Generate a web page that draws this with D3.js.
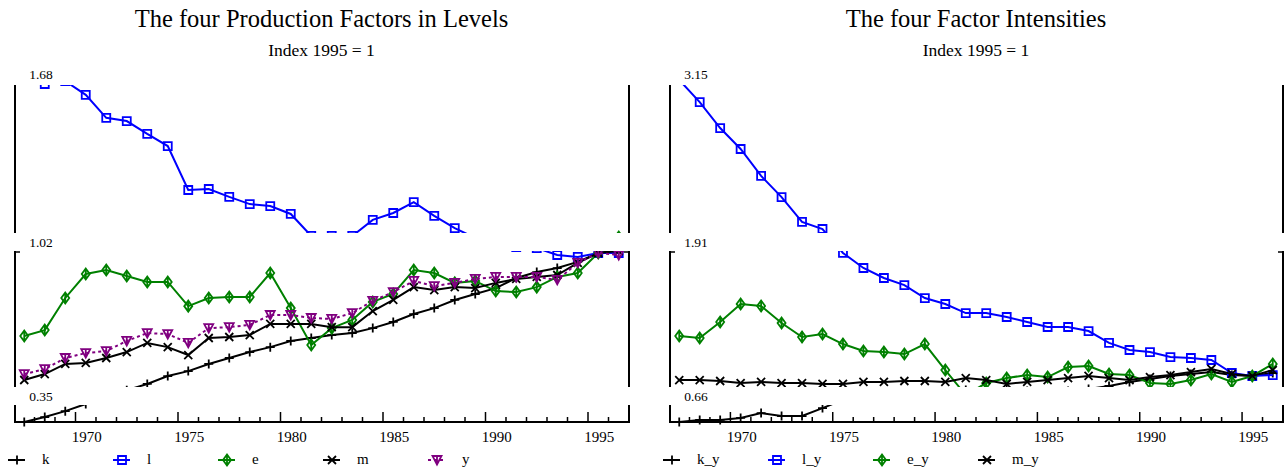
<!DOCTYPE html>
<html>
<head>
<meta charset="utf-8">
<script src="https://d3js.org/d3.v7.min.js"></script>
<style>
  body { margin: 0; background: #fff; }
  text { font-family: "Liberation Serif", "Times New Roman", serif; fill: #000; }
</style>
</head>
<body>
<div class="chart"></div>
<script>
// years on the x axis
var years = [1967, 1968, 1969, 1970, 1971, 1972, 1973, 1974, 1975, 1976,
  1977, 1978, 1979, 1980, 1981, 1982, 1983, 1984, 1985, 1986,
  1987, 1988, 1989, 1990, 1991, 1992, 1993, 1994, 1995, 1996];
var yearTicks = [1970, 1975, 1980, 1985, 1990, 1995];

// panel 1: production factors in levels (index 1995 = 1)
var kLevel = [0.316, 0.336, 0.360, 0.389, 0.417, 0.445, 0.470, 0.502, 0.522, 0.551,
  0.575, 0.599, 0.619, 0.644, 0.656, 0.668, 0.676, 0.696, 0.721, 0.753,
  0.777, 0.810, 0.834, 0.858, 0.899, 0.923, 0.939, 0.964, 1.000, 1.012];
var lLevel = [1.721, 1.684, 1.696, 1.640, 1.547, 1.534, 1.482, 1.433, 1.255, 1.259,
  1.227, 1.198, 1.190, 1.158, 1.069, 1.069, 1.069, 1.134, 1.162, 1.206,
  1.150, 1.101, 1.061, 1.053, 1.024, 1.020, 0.992, 0.984, 1.000, 1.000];
var eLevel = [0.664, 0.688, 0.818, 0.915, 0.931, 0.907, 0.883, 0.883, 0.785, 0.818,
  0.822, 0.822, 0.919, 0.777, 0.628, 0.696, 0.729, 0.802, 0.834, 0.931,
  0.919, 0.879, 0.887, 0.846, 0.842, 0.862, 0.903, 0.919, 1.000, 1.065];
var mLevel = [0.486, 0.510, 0.551, 0.555, 0.575, 0.599, 0.636, 0.619, 0.587, 0.656,
  0.660, 0.668, 0.713, 0.713, 0.713, 0.700, 0.700, 0.765, 0.810, 0.862,
  0.850, 0.862, 0.858, 0.879, 0.895, 0.903, 0.911, 0.960, 1.000, 1.008];
var yLevel = [0.510, 0.530, 0.575, 0.595, 0.603, 0.644, 0.676, 0.672, 0.636, 0.696,
  0.700, 0.709, 0.749, 0.749, 0.737, 0.733, 0.757, 0.806, 0.842, 0.887,
  0.866, 0.879, 0.895, 0.903, 0.903, 0.903, 0.891, 0.960, 1.000, 0.992];
var levelRange = [0.316, 1.680];
var levelLabels = ["1.68", "1.02", "0.35"];

// panel 2: factor intensities (index 1995 = 1)
var kyInt = [0.660, 0.675, 0.675, 0.690, 0.726, 0.704, 0.704, 0.763, 0.823, 0.837,
  0.852, 0.859, 0.867, 0.882, 0.896, 0.904, 0.904, 0.889, 0.882, 0.889,
  0.904, 0.926, 0.956, 0.978, 1.000, 1.015, 1.029, 1.007, 1.000, 1.022];
var lyInt = [3.187, 3.024, 2.832, 2.677, 2.478, 2.322, 2.138, 2.086, 1.909, 1.798,
  1.724, 1.672, 1.576, 1.532, 1.465, 1.465, 1.436, 1.399, 1.362, 1.362,
  1.332, 1.244, 1.192, 1.177, 1.140, 1.133, 1.118, 1.022, 1.000, 1.007];
var eyInt = [1.295, 1.281, 1.399, 1.532, 1.517, 1.391, 1.288, 1.310, 1.236, 1.185,
  1.177, 1.162, 1.236, 1.044, 0.859, 0.948, 0.985, 1.007, 0.992, 1.066,
  1.074, 1.015, 1.007, 0.948, 0.941, 0.970, 1.015, 0.956, 1.000, 1.089];
var myInt = [0.970, 0.970, 0.963, 0.948, 0.956, 0.948, 0.948, 0.941, 0.941, 0.956,
  0.956, 0.963, 0.963, 0.956, 0.985, 0.970, 0.941, 0.956, 0.970, 0.985,
  1.000, 0.985, 0.970, 0.992, 1.007, 1.029, 1.052, 1.015, 1.000, 1.044];
var intRange = [0.66, 3.15];
var intLabels = ["3.15", "1.91", "0.66"];

var svgWidth = 1286;
var svgHeight = 471;

// vertical layout: three visible bands of the plot, separated by white gaps
var plotTop = 85;
var plotBottom = 422;
var bands = [[85, 233], [251, 387], [405, 422]];

var svg = d3.select(".chart")
  .append("svg")
  .attr("width", svgWidth)
  .attr("height", svgHeight);

// marker shapes, drawn around (0,0)
var markers = {
  plus: "M-4.5,0H4.5M0,-4.5V4.5",
  square: "M-4,-4H4V4H-4Z",
  diamond: "M0,-5.5L4,0L0,5.5L-4,0ZM0,-5.5V5.5",
  cross: "M-4,-4L4,4M-4,4L4,-4",
  tri: "M-4.5,-4H4.5L0,4.5ZM0,-4V4.5"
};

function drawPanel(p) {
  var x = d3.scaleLinear().domain([1966.5, 1996.5]).range([p.left, p.right]);
  var y = d3.scaleLinear().domain(p.range).range([plotBottom, plotTop]);

  // titles
  var mid = (p.left + p.right) / 2;
  svg.append("text")
    .attr("x", mid).attr("y", 27)
    .attr("text-anchor", "middle")
    .style("font-size", "24.5px")
    .text(p.title);
  svg.append("text")
    .attr("x", mid).attr("y", 56)
    .attr("text-anchor", "middle")
    .style("font-size", "17.5px")
    .text("Index 1995 = 1");

  // clip path made of the three bands
  var clip = svg.append("clipPath").attr("id", p.id + "-clip");
  bands.forEach(function (b, i) {
    clip.append("rect")
      .attr("x", p.left)
      .attr("y", b[0])
      .attr("width", p.right - p.left)
      .attr("height", (i === bands.length - 1 ? b[1] + 5 : b[1]) - b[0]);
  });

  var plot = svg.append("g").attr("clip-path", "url(#" + p.id + "-clip)");

  p.series.forEach(function (s) {
    var pts = years.map(function (yr, i) { return [yr, s.values[i]]; });
    var line = d3.line()
      .x(d => x(d[0]))
      .y(d => y(d[1]));

    plot.append("path")
      .datum(pts)
      .attr("d", line)
      .attr("fill", "none")
      .attr("stroke", s.color)
      .attr("stroke-width", 2)
      .attr("stroke-dasharray", s.dash || null);

    plot.selectAll(null)
      .data(pts)
      .enter()
      .append("path")
      .attr("transform", d => `translate(${x(d[0])}, ${y(d[1])})`)
      .attr("d", markers[s.marker])
      .attr("fill", "none")
      .attr("stroke", s.color)
      .attr("stroke-width", 1.8);
  });

  // y axis segments on both sides
  [p.left + 1, p.right].forEach(function (ax, side) {
    bands.forEach(function (b, i) {
      svg.append("line")
        .attr("x1", ax).attr("x2", ax)
        .attr("y1", b[0]).attr("y2", b[1])
        .attr("stroke", "#000")
        .attr("stroke-width", 2);
      if (i === 1) {
        svg.append("line")
          .attr("x1", ax).attr("x2", side === 0 ? ax + 5 : ax - 5)
          .attr("y1", b[0] + 1).attr("y2", b[0] + 1)
          .attr("stroke", "#000")
          .attr("stroke-width", 1.5);
      }
    });
  });

  // band labels
  var labelY = [79, 247, 401];
  p.labels.forEach(function (t, i) {
    svg.append("text")
      .attr("x", p.left + 27)
      .attr("y", labelY[i])
      .attr("text-anchor", "middle")
      .style("font-size", "13.5px")
      .text(t);
  });

  // x axis with ticks between the years
  svg.append("line")
    .attr("x1", p.left).attr("x2", p.right + 1)
    .attr("y1", plotBottom).attr("y2", plotBottom)
    .attr("stroke", "#000")
    .attr("stroke-width", 2);

  var tickYears = d3.range(1967.5, 1996, 1);
  svg.selectAll(null)
    .data(tickYears)
    .enter()
    .append("line")
    .attr("x1", d => x(d)).attr("x2", d => x(d))
    .attr("y1", plotBottom)
    .attr("y2", d => plotBottom - ((d + 0.5) % 5 === 0 ? 10 : 5))
    .attr("stroke", "#000")
    .attr("stroke-width", 1.5);

  svg.selectAll(null)
    .data(yearTicks)
    .enter()
    .append("text")
    .attr("x", d => x(d) + 1)
    .attr("y", 442)
    .attr("text-anchor", "middle")
    .style("font-size", "15px")
    .text(d => d);

  // legend
  p.series.forEach(function (s, i) {
    var x0 = p.left - 6 + i * 105;
    var lg = svg.append("g").attr("transform", `translate(${x0}, 460)`);
    lg.append("line")
      .attr("x1", 0).attr("x2", 17)
      .attr("stroke", s.color)
      .attr("stroke-width", 2)
      .attr("stroke-dasharray", s.dash || null);
    lg.append("path")
      .attr("transform", "translate(9, 0)")
      .attr("d", markers[s.marker])
      .attr("fill", "none")
      .attr("stroke", s.color)
      .attr("stroke-width", 1.8);
    lg.append("text")
      .attr("x", 34)
      .attr("y", 4)
      .style("font-size", "15px")
      .text(s.name);
  });
}

drawPanel({
  id: "levels",
  title: "The four Production Factors in Levels",
  left: 14,
  right: 629,
  range: levelRange,
  labels: levelLabels,
  series: [
    { name: "k", values: kLevel, color: "#000000", marker: "plus" },
    { name: "l", values: lLevel, color: "#0000ff", marker: "square" },
    { name: "e", values: eLevel, color: "#008000", marker: "diamond" },
    { name: "m", values: mLevel, color: "#000000", marker: "cross" },
    { name: "y", values: yLevel, color: "#800080", marker: "tri", dash: "3,3" }
  ]
});

drawPanel({
  id: "intens",
  title: "The four Factor Intensities",
  left: 669,
  right: 1283,
  range: intRange,
  labels: intLabels,
  series: [
    { name: "k_y", values: kyInt, color: "#000000", marker: "plus" },
    { name: "l_y", values: lyInt, color: "#0000ff", marker: "square" },
    { name: "e_y", values: eyInt, color: "#008000", marker: "diamond" },
    { name: "m_y", values: myInt, color: "#000000", marker: "cross" }
  ]
});
</script>
</body>
</html>
